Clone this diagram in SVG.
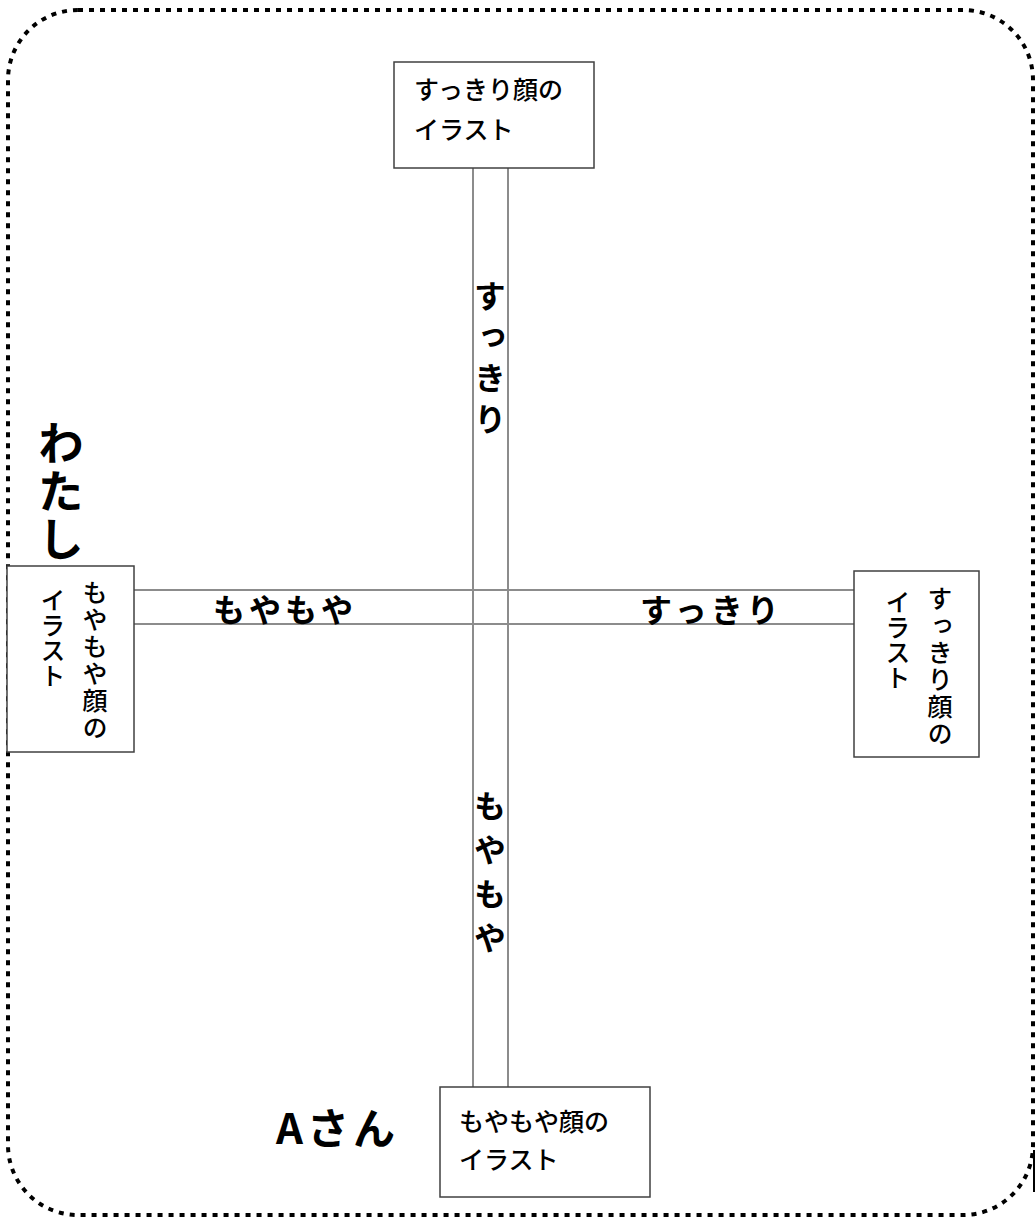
<svg xmlns="http://www.w3.org/2000/svg" width="1036" height="1219" viewBox="0 0 1036 1219">
<style>
.border{fill:none;stroke:#000;stroke-width:4;stroke-dasharray:5 6}
.box{fill:#fff;stroke:#404040;stroke-width:1.5}
.ln{stroke:#8c8c8c;stroke-width:2;fill:none}
.t{font-family:"Noto Sans CJK JP","Noto Sans",sans-serif;fill:#000}
.nt{font-size:25px;font-weight:500}
.lb{font-size:32px;font-weight:bold}
.v{writing-mode:vertical-rl}
</style>
<rect class="border" x="8" y="10" width="1025" height="1205" rx="70" ry="70"/>
<path d="M1034 1150 L1034 1192" stroke="#000" stroke-width="2"/>
<g id="connectors">
<line class="ln" x1="473" y1="168" x2="473" y2="1087"/>
<line class="ln" x1="508" y1="168" x2="508" y2="1087"/>
<line class="ln" x1="134" y1="590" x2="854" y2="590"/>
<line class="ln" x1="134" y1="624" x2="854" y2="624"/>
<text class="t lb v" x="490" y="280" letter-spacing="9">すっきり</text>
<text class="t lb v" x="490" y="790" letter-spacing="12">もやもや</text>
<text class="t lb" x="213" y="622" letter-spacing="4">もやもや</text>
<text class="t lb" x="640" y="622" letter-spacing="4">すっきり</text>
</g>
<g id="node-top">
<rect class="box" x="394" y="62" width="200" height="106"/>
<text class="t nt" x="414" y="99">すっきり顔の</text>
<text class="t nt" x="414" y="139">イラスト</text>
</g>
<g id="node-bottom">
<rect class="box" x="440" y="1087" width="210" height="110"/>
<text class="t nt" x="459" y="1131">もやもや顔の</text>
<text class="t nt" x="459" y="1169">イラスト</text>
</g>
<g id="node-left">
<rect class="box" x="7" y="566" width="127" height="186"/>
<text class="t nt v" x="95" y="580" letter-spacing="2">もやもや顔の</text>
<text class="t nt v" x="53" y="588">イラスト</text>
</g>
<g id="node-right">
<rect class="box" x="854" y="571" width="125" height="186"/>
<text class="t nt v" x="940" y="586" letter-spacing="2">すっきり顔の</text>
<text class="t nt v" x="898" y="590">イラスト</text>
</g>
<g id="label-watashi">
<text class="t v" x="61" y="420" font-size="46" font-weight="bold" letter-spacing="2">わたし</text>
</g>
<g id="label-a">
<text class="t" x="276" y="1144" font-size="42" font-weight="bold" letter-spacing="4">Aさん</text>
</g>
</svg>
